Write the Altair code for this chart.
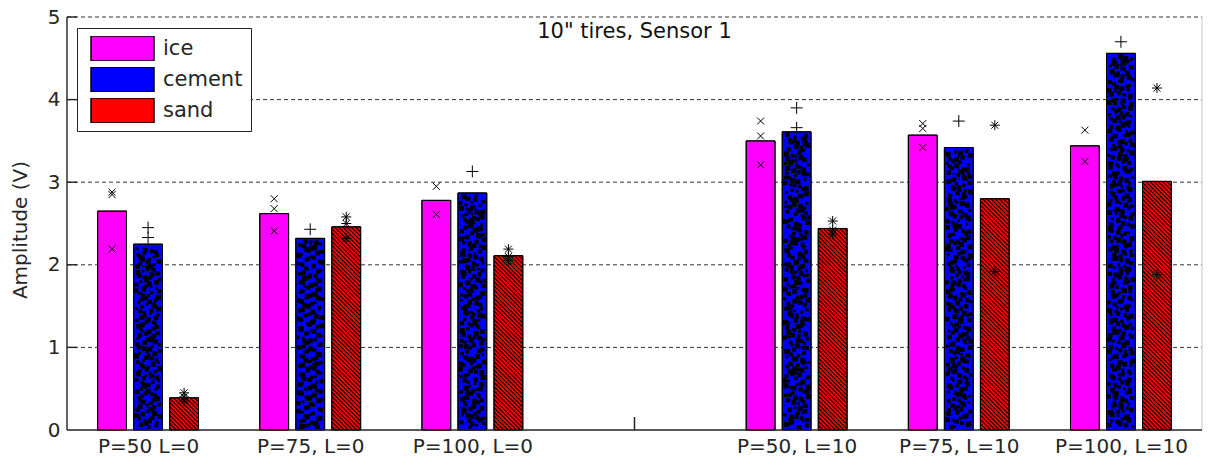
import json
import numpy as np
import pandas as pd
import altair as alt

# ---------------- data ----------------
tick_pos = [1, 2, 3, 4, 5, 6, 7]
tick_labels = ["P=50 L=0", "P=75, L=0", "P=100, L=0", "", "P=50, L=10", "P=75, L=10", "P=100, L=10"]
group_pos = [1, 2, 3, 5, 6, 7]
materials = ["ice", "cement", "sand"]
ice = [2.65, 2.62, 2.78, 3.50, 3.57, 3.44]
cement = [2.25, 2.32, 2.87, 3.61, 3.42, 4.56]
sand = [0.39, 2.46, 2.11, 2.44, 2.80, 3.01]
ice_trials = [[2.88, 2.85, 2.19], [2.80, 2.68, 2.41], [2.95, 2.61],
              [3.74, 3.56, 3.21], [3.71, 3.65, 3.42], [3.63, 3.25]]
cement_trials = [[2.45, 2.33, 1.98], [2.43, 2.21], [3.13, 2.62],
                 [3.90, 3.66, 3.27], [3.74, 3.10], [4.70, 4.42]]
sand_trials = [[0.45, 0.40, 0.35], [2.58, 2.50, 2.32], [2.19, 2.10, 2.05],
               [2.53, 2.42, 2.37], [3.69, 1.92], [4.14, 1.88]]
y_ticks = [0, 1, 2, 3, 4, 5]
title_text = '10" tires, Sensor 1'
y_title = "Amplitude (V)"

# ---------------- layout / style ----------------
W, H = 1135, 413
XMIN, XMAX, YMAX = 0.5, 7.5, 5
colors = ["#ff00ff", "#0000ff", "#ff0000"]
SPACING = 0.2222
HALF = 0.0889
FONT = "DejaVu Sans"
TXT = "#262626"
kx = W / (XMAX - XMIN)
ky = H / YMAX

xscale = alt.Scale(domain=[XMIN, XMAX], nice=False, zero=False)
yscale = alt.Scale(domain=[0, YMAX], nice=False, zero=False)

values = {"ice": ice, "cement": cement, "sand": sand}
trials = {"ice": ice_trials, "cement": cement_trials, "sand": sand_trials}

bar_rows = []
pt_frames = {}
for mi, m in enumerate(materials):
    off = (mi - 1) * SPACING
    rows = []
    for gi, (g, v) in enumerate(zip(group_pos, values[m])):
        bar_rows.append(dict(material=m, x0=g + off - HALF, x1=g + off + HALF, v=v, base=0.0))
        for t in trials[m][gi]:
            rows.append(dict(x=g + off, v=t))
    pt_frames[m] = pd.DataFrame(rows)
bars = pd.DataFrame(bar_rows)

# hatch for sand bars ("\" lines)
HATCH = 4.2
hatch_rows = []
for g, v in zip(group_pos, sand):
    cx = g + SPACING
    X0 = (cx - HALF - XMIN) * kx
    X1 = (cx + HALF - XMIN) * kx
    Yt = v * ky
    c = np.floor(X0 / HATCH) * HATCH
    while c < X1 + Yt:
        ya = max(0.0, c - X1)
        yb = min(Yt, c - X0)
        if yb > ya:
            hatch_rows.append(dict(x=(c - ya) / kx + XMIN, y=ya / ky,
                                   x2=(c - yb) / kx + XMIN, y2=yb / ky))
        c += HATCH
hatch = pd.DataFrame(hatch_rows)


def halton(i, b):
    f, r = 1.0, 0.0
    while i > 0:
        f /= b
        r += f * (i % b)
        i //= b
    return r


# speckle texture for cement bars (deterministic low-discrepancy layout)
DENS = 0.03
dot_rows = []
k = 1
for g, v in zip(group_pos, cement):
    cx = g
    wpx = 2 * HALF * kx
    hpx = v * ky
    n = int(wpx * hpx * DENS)
    for _ in range(n):
        u, w, s = halton(k, 2), halton(k, 3), halton(k, 5)
        k += 1
        xp = 2.4 + u * (wpx - 4.8)
        yp = 2.4 + w * (hpx - 4.8)
        dot_rows.append(dict(x=cx - HALF + xp / kx, y=yp / ky, s=7 + 20 * s))
dots = pd.DataFrame(dot_rows)

grid = pd.DataFrame({"y": y_ticks[1:], "x": XMIN, "x2": XMAX})
xt = pd.DataFrame({"x": tick_pos, "y": 0.0, "y2": 13 / ky})
yt = pd.DataFrame({"y": y_ticks[1:], "x": XMIN, "x2": XMIN + 10 / kx})
axl = pd.DataFrame({"x": [XMIN, XMIN], "x2": [XMIN, XMAX], "y": [0.0, 0.0], "y2": [YMAX, 0.0]})
rb = pd.DataFrame({"x": [XMAX], "y": [0.0], "y2": [YMAX]})

xaxis = alt.Axis(values=tick_pos, labelExpr=f"{json.dumps(tick_labels)}[datum.value - 1]",
                 title=None, ticks=False, domain=False, grid=False, labelFont=FONT,
                 labelFontSize=20, labelColor=TXT, labelPadding=6, labelAngle=0,
                 labelOverlap=False, labelFlush=False)
yaxis = alt.Axis(values=y_ticks, format="d", title=y_title, ticks=False, domain=False,
                 grid=False, labelFont=FONT, labelFontSize=20, labelColor=TXT, labelPadding=7,
                 titleFont=FONT, titleFontSize=20, titleFontWeight="normal", titleColor=TXT,
                 titleX=-47, titleY=H / 2 + 6, titleBaseline="middle", titleAngle=270)

legend = alt.Legend(orient="none", legendX=10, legendY=11, title=None,
                    symbolType="M-1,-0.4H1V0.4H-1Z", symbolSize=3969, symbolOffset=5,
                    symbolStrokeColor="black", symbolStrokeWidth=1.5, symbolOpacity=1,
                    clipHeight=25, rowPadding=6, padding=8, labelFont=FONT, labelFontSize=21,
                    labelColor=TXT, labelOffset=8, fillColor="white", strokeColor="#222")


def X(f):
    return alt.X(f, type="quantitative", scale=xscale, axis=xaxis)


def Y(f):
    return alt.Y(f, type="quantitative", scale=yscale, axis=yaxis)


grid_l = alt.Chart(grid).mark_rule(color="#333", strokeWidth=1, strokeDash=[4, 3]).encode(
    x=X("x"), x2="x2", y=Y("y"))
xt_l = alt.Chart(xt).mark_rule(color="#222", strokeWidth=1.5).encode(x=X("x"), y=Y("y"), y2="y2")
fill_l = alt.Chart(bars).mark_rect(stroke="black", strokeWidth=1).encode(
    x=X("x0"), x2="x1", y=Y("v"), y2="base",
    fill=alt.Fill("material:N", scale=alt.Scale(domain=materials, range=colors), legend=legend))
hatch_l = alt.Chart(hatch).mark_rule(color="black", strokeWidth=1.1).encode(
    x=X("x"), x2="x2", y=Y("y"), y2="y2")
dots_l = alt.Chart(dots).mark_square(color="black", opacity=1).encode(
    x=X("x"), y=Y("y"), size=alt.Size("s:Q", scale=None, legend=None))
outline_l = alt.Chart(bars).mark_rect(fillOpacity=0, stroke="black", strokeWidth=1).encode(
    x=X("x0"), x2="x1", y=Y("v"), y2="base")

marker_style = {
    "ice": ("M-1,-1L1,1M-1,1L1,-1", 49),
    "cement": ("M-1,0L1,0M0,-1L0,1", 144),
    "sand": ("M-1,0L1,0M0,-1L0,1M-0.7,-0.7L0.7,0.7M-0.7,0.7L0.7,-0.7", 100),
}
pt_layers = [
    alt.Chart(pt_frames[m]).mark_point(filled=False, color="black", strokeWidth=1, opacity=1,
                                       shape=marker_style[m][0], size=marker_style[m][1]).encode(
        x=X("x"), y=Y("v"))
    for m in materials
]
rb_l = alt.Chart(rb).mark_rule(color="#c8c8c8", strokeWidth=1).encode(x=X("x"), y=Y("y"), y2="y2")
ax_l = alt.Chart(axl).mark_rule(color="#222", strokeWidth=1.4).encode(
    x=X("x"), x2="x2", y=Y("y"), y2="y2")
yt_l = alt.Chart(yt).mark_rule(color="#222", strokeWidth=1.4).encode(x=X("x"), x2="x2", y=Y("y"))
title_l = alt.Chart(pd.DataFrame({"t": [title_text]})).mark_text(
    font=FONT, fontSize=21, color="#111", baseline="alphabetic", align="center").encode(
    text="t:N", x=alt.value(W / 2), y=alt.value(21))

chart = alt.layer(grid_l, xt_l, fill_l, hatch_l, dots_l, outline_l, *pt_layers, rb_l, ax_l, yt_l,
                  title_l).properties(
    width=W, height=H,
    padding={"left": 67, "top": 17, "right": 7, "bottom": 38},
    autosize="none",
).configure_view(stroke=None)

chart.save("out.html", embed_options={"renderer": "svg", "actions": False})
